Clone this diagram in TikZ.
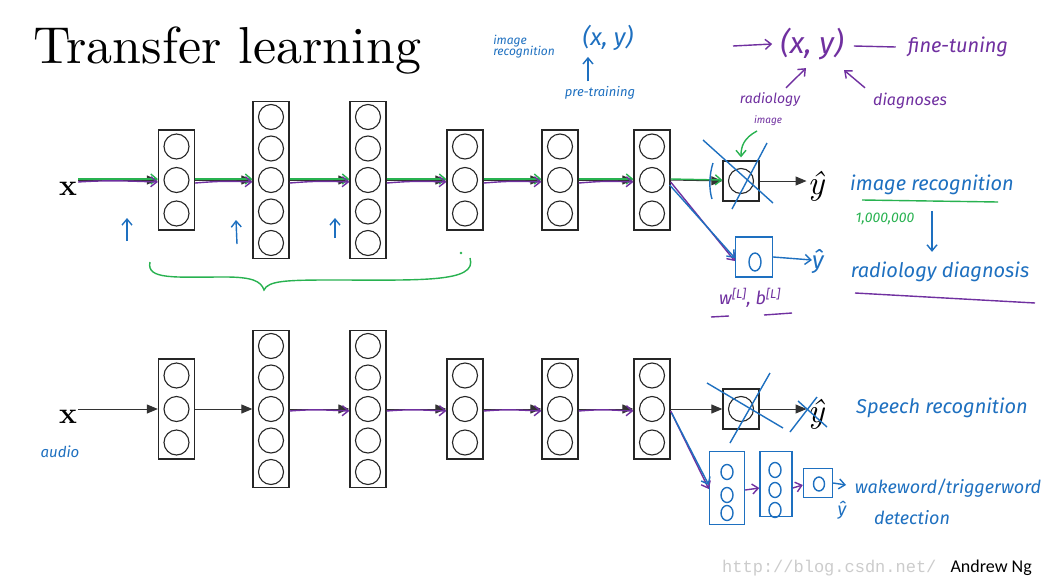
\documentclass[tikz,border=0pt]{standalone}
\usepackage{fontspec}
\usetikzlibrary{arrows.meta,calc}
\newfontfamily\hand{Fira Sans}
\newfontfamily\ngfont{Carlito}
\newfontfamily\wmfont{Liberation Mono}
\newfontfamily\titlefont{lmroman10-regular}[Extension=.otf]
\newfontfamily\yfont{lmroman10-italic}[Extension=.otf]
\definecolor{hb}{RGB}{30,112,192}
\definecolor{hp}{RGB}{112,48,160}
\definecolor{hg}{RGB}{40,178,80}
\newcommand\nnlayer[4]{%
  \ifnum#4=3
    \node[layerbox, minimum height=100pt] (#1) at (#2,#3) {};
    \foreach \k/\o in {1/-33.5,2/0,3/33.5} \node[neuron] (#1c\k) at (#2,#3+\o) {};
  \else
    \node[layerbox, minimum height=157pt] (#1) at (#2,#3) {};
    \foreach \k/\o in {1/-63,2/-31.5,3/0,4/31.5,5/63} \node[neuron] (#1c\k) at (#2,#3+\o) {};
  \fi}
\begin{document}
\begin{tikzpicture}[x=1pt,y=-1pt,
  layerbox/.style={draw=black!85, line width=1.3pt, minimum width=36pt, inner sep=0pt, fill=white},
  neuron/.style={circle, draw=black!85, line width=1.1pt, minimum size=25pt, inner sep=0pt},
  fwd/.style={draw=black!80, line width=1pt, -{Triangle[length=11pt,width=9pt]}},
  gov/.style={draw=hg, line width=1.4pt, -{Straight Barb[length=6pt,width=10pt]}},
  pov/.style={draw=hp, line width=1.4pt, -{Straight Barb[length=6pt,width=10pt]}},
  bov/.style={draw=hb, line width=1.4pt, -{Straight Barb[length=6pt,width=10pt]}},
  bline/.style={draw=hb, line width=1.4pt},
  pline/.style={draw=hp, line width=1.4pt},
  gline/.style={draw=hg, line width=1.4pt},
  htext/.style={inner sep=0pt, font=\hand\itshape\fontsize{#1}{#1}\selectfont},
  bt/.style={htext=#1, text=hb},
  pt/.style={htext=#1, text=hp},
  gt/.style={htext=#1, text=hg},
  hbox/.style={draw=hb, line width=1.4pt, inner sep=0pt},
  xlab/.style={font=\bfseries\fontsize{30}{30}\selectfont, inner sep=1pt},
  yhat/.style={font=\yfont\fontsize{34}{34}\selectfont, inner sep=1pt}
]
\useasboundingbox (0,0) rectangle (1053,587);
\fill[white] (0,0) rectangle (1053,587);

% title
\node[anchor=base west, inner sep=0pt, font=\titlefont\fontsize{52}{56}\selectfont] (title) at (33,63) {Transfer learning};

% ---------- top network ----------
\node[xlab] (x1) at (68,189) {x};
\nnlayer{t1}{176.5}{180}{3}
\nnlayer{t2}{271}{180}{5}
\nnlayer{t3}{368}{180}{5}
\nnlayer{t4}{465}{180}{3}
\nnlayer{t5}{560}{180}{3}
\nnlayer{t6}{652}{180}{3}
\node[layerbox, minimum height=40pt] (to) at (741,181) {};
\node[neuron] (toc) at (741,181) {};
\node[yhat] (ty) at (816,186) {ŷ};

\draw[fwd] (x1.east |- t1) -- (t1.west);
\foreach \a/\b in {t1/t2,t2/t3,t3/t4,t4/t5,t5/t6} \draw[fwd] (\a.east) -- (\b.west);
\draw[fwd] (t6.east) -- (to.west);
\draw[fwd] (to.east) -- (ty.west |- to.east);

% green & purple overlays
\draw[gov] ([yshift=1pt]x1.east |- t1) -- ([yshift=1pt]t1.west);
\draw[pov] ([yshift=-2pt]x1.east |- t1) .. controls +(30,-2) and +(-30,-1) .. ([yshift=-2pt]t1.west);
\foreach \a/\b in {t1/t2,t2/t3,t3/t4,t4/t5,t5/t6} {
  \draw[gov] ([yshift=1pt]\a.east) -- ([yshift=1pt]\b.west);
  \draw[pov] ([yshift=-3pt]\a.east) .. controls +(25,-2) and +(-25,-1) .. ([yshift=-2pt]\b.west);
}
\draw[gov] ([yshift=1pt]t6.east) -- ([yshift=1pt]to.west);

% blue up arrows
\coordinate (u1a) at (127,241); \coordinate (u1b) at (127,218);
\coordinate (u2a) at (237,244); \coordinate (u2b) at (236,220);
\coordinate (u3a) at (335,238); \coordinate (u3b) at (335,218);
\draw[bov] (u1a) -- (u1b);
\draw[bov] (u2a) -- (u2b);
\draw[bov] (u3a) -- (u3b);

% green brace
\draw[gline] (150,262) .. controls (146,280) and (175,277) .. (225,277)
  .. controls (252,277) and (261,281) .. (264,290)
  .. controls (268,281) and (285,280) .. (330,280)
  .. controls (420,280) and (478,283) .. (470,258);
\fill[hg] (461,253) circle (1.3pt);

% cross-out of old output
\draw[bline] (703,140) -- (773,203);
\draw[bline] (767,143) -- (732,209);
\draw[bline] (713,163) .. controls (709,175) and (709,190) .. (712,199);

% green arrow into output
\coordinate (ga) at (757,131);
\draw[gov] (ga) .. controls (744,138) and (741,146) .. ([yshift=3pt]to.north);

% new output layer (radiology)
\node[hbox, minimum width=37pt, minimum height=40pt] (nb) at (754,257) {};
\draw[bline] (755,262) ellipse (6pt and 9pt);
\node[bt=24] (ny) at (818,262) {ŷ};
\draw[bov] (nb.east) -- ([yshift=2pt]ny.west);
\draw[pov] ([yshift=-2pt]t6.east) -- ([yshift=-4pt]nb.west);
\draw[bov] ([xshift=-1pt,yshift=-5pt]t6.east) -- ([yshift=-1pt]nb.west);
\node[pt=18] (wb) at (750,298) {w\textsuperscript{[L]}, b\textsuperscript{[L]}};
\draw[pline] (711,317) -- (729,316);
\draw[pline] (764,315) -- (792,313);

% top annotations (pre-training)
\node[bt=12, align=left] (ir1) at (524,47) {image\\[-1pt]recognition};
\node[bt=24] (xy1) at (608,38) {(x, y)};
\node[bt=13] (pre) at (600,93) {pre-training};
\draw[bov] ([xshift=-12pt,yshift=5pt]pre.north) -- ([xshift=-20pt,yshift=-6pt]xy1.south);

% fine-tuning annotations
\node[pt=30] (xy2) at (812,44) {(x, y)};
\coordinate (fa) at (733,46);
\draw[pov] (fa) -- ([xshift=-8pt]xy2.west);
\node[pt=20] (ft) at (958,47) {fine-tuning};
\draw[pline] ([xshift=10pt,yshift=-2pt]xy2.east) -- ([xshift=-12pt,yshift=0pt]ft.west);
\node[pt=14] (rad) at (770,100) {radiology};
\node[pt=10] (rimg) at (768,121) {image};
\node[pt=16] (dia) at (910,101) {diagnoses};
\draw[pov] ([xshift=16pt,yshift=5pt]rad.north) -- ([xshift=-6pt,yshift=-8pt]xy2.south);
\draw[pov] ([xshift=-45pt,yshift=5pt]dia.north) -- ([xshift=32pt,yshift=-10pt]xy2.south);

% right-side notes
\node[bt=20] (irn) at (932,185) {image recognition};
\draw[gline] (862,200) -- (998,202);
\node[gt=14] (mil) at (885,219) {1,000,000};
\node[bt=20] (rdn) at (940,272) {radiology diagnosis};
\coordinate (da) at (932,211);
\draw[bov] (da) -- ([xshift=-8pt,yshift=10pt]rdn.north);
\draw[pline] (855,293) -- (1035,303);

% ---------- bottom network ----------
\node[xlab] (x2) at (68,417) {x};
\node[bt=15] (aud) at (60,452) {audio};
\nnlayer{b1}{176.5}{409}{3}
\nnlayer{b2}{271}{409}{5}
\nnlayer{b3}{368}{409}{5}
\nnlayer{b4}{465}{409}{3}
\nnlayer{b5}{560}{409}{3}
\nnlayer{b6}{652}{409}{3}
\node[layerbox, minimum height=40pt] (bo) at (741,409) {};
\node[neuron] (boc) at (741,409) {};
\node[yhat] (by) at (816,414) {ŷ};

\draw[fwd] (x2.east |- b1) -- (b1.west);
\foreach \a/\b in {b1/b2,b2/b3,b3/b4,b4/b5,b5/b6} \draw[fwd] (\a.east) -- (\b.west);
\draw[fwd] (b6.east) -- (bo.west);
\draw[fwd] (bo.east) -- (by.west |- bo.east);
\foreach \a/\b in {b2/b3,b3/b4,b4/b5,b5/b6}
  \draw[pov] ([yshift=-2pt]\a.east) .. controls +(25,-2) and +(-25,-1) .. ([yshift=-2pt]\b.west);

% cross-outs
\draw[bline] (707,383) -- (783,428);
\draw[bline] (770,373) -- (730,443);
\draw[bline] (790,432) -- (817,397);
\draw[bline] (798,401) -- (827,427);

% new small network (wakeword)
\node[hbox, minimum width=35pt, minimum height=73pt] (bb1) at (727,488) {};
\node[hbox, minimum width=32pt, minimum height=65pt] (bb2) at (776,484) {};
\node[hbox, minimum width=29pt, minimum height=29pt] (bb3) at (818,483) {};
\foreach \yy in {472,495,513} \draw[bline] (727,\yy) ellipse (6pt and 7.5pt);
\foreach \yy in {470,490,510} \draw[bline] (775,\yy) ellipse (6pt and 7.5pt);
\draw[bline] (819,484) ellipse (5.5pt and 7pt);
\draw[pov] ([yshift=-2pt]bb1.east) -- ([yshift=-4pt]bb2.west);
\draw[pov] ([yshift=-4pt]bb2.east) -- ([yshift=-2pt]bb3.west);
\node[bt=18] (wy) at (842,510) {ŷ};
\coordinate (wa) at (846,485);
\draw[bov] (bb3.east) -- (wa);
\draw[pov] ([yshift=-2pt]b6.east) -- ([yshift=-1pt]bb1.west);
\draw[bov] ([xshift=1pt,yshift=-4pt]b6.east) -- ([yshift=3pt]bb1.west);

\node[bt=20] (spr) at (942,408) {Speech recognition};
\node[bt=18] (wk) at (948,488) {wakeword/triggerword};
\node[bt=18] (det) at (912,518) {detection};

% footer
\node[anchor=base west, inner sep=0pt, text=gray!40, font=\wmfont\fontsize{17}{17}\selectfont] (wm) at (722,572) {http://blog.csdn.net/};
\node[anchor=base east, inner sep=0pt, font=\ngfont\fontsize{18}{18}\selectfont] (ng) at (1032,572) {Andrew Ng};
\end{tikzpicture}
\end{document}
